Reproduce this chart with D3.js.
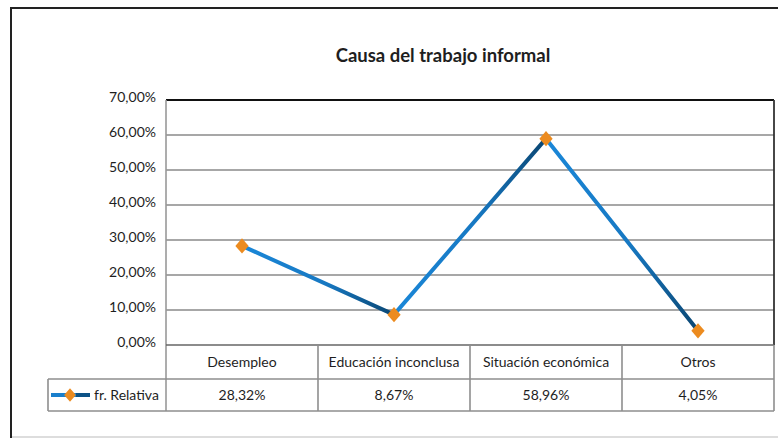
<!DOCTYPE html>
<html>
<head>
<meta charset="utf-8">
<script src="https://cdn.jsdelivr.net/npm/d3@7"></script>
<style>
  body { margin: 0; background: #fff; }
  svg text { font-family: Lato, "Open Sans", sans-serif; fill: #1e1e1e; }
</style>
</head>
<body>
<script>
const categories = ['Desempleo', 'Educación inconclusa', 'Situación económica', 'Otros'];
const values = [0.2832, 0.0867, 0.5896, 0.0405];
const valueLabels = ['28,32%', '8,67%', '58,96%', '4,05%'];
const yTicks = [0, 0.1, 0.2, 0.3, 0.4, 0.5, 0.6, 0.7];
const seriesName = 'fr. Relativa';
const title = 'Causa del trabajo informal';

const fullWidth = 778;
const fullHeight = 439;
const plot = { left: 166, right: 774, top: 100, bottom: 345 };
const rowH = 33;

// Excel-like diamond marker (a bit taller than wide)
const excelDiamond = {
  draw(context, size) {
    const w = Math.sqrt(size) * 0.7;
    const h = Math.sqrt(size) * 0.8;
    context.moveTo(0, -h);
    context.lineTo(w, 0);
    context.lineTo(0, h);
    context.lineTo(-w, 0);
    context.closePath();
  }
};

const svg = d3.select('body')
  .append('svg')
  .attr('width', fullWidth)
  .attr('height', fullHeight);

// Outer frame
svg.append('rect')
  .attr('x', 11).attr('y', 8)
  .attr('width', 790).attr('height', 429)
  .attr('fill', 'none')
  .attr('stroke', '#222')
  .attr('stroke-width', 2);
svg.append('line')
  .attr('x1', 12).attr('x2', 778).attr('y1', 437).attr('y2', 437)
  .attr('stroke', '#ddd').attr('stroke-width', 2);

// Scales
const xScale = d3.scaleBand()
  .domain(categories)
  .range([plot.left, plot.right]);

const yScale = d3.scaleLinear()
  .domain([0, 0.7])
  .range([plot.bottom, plot.top]);

const fmt = d => d3.format('.2f')(d * 100).replace('.', ',') + '%';

// Gridlines
svg.append('g')
  .selectAll('line')
  .data(yTicks.slice(1, -1))
  .enter()
  .append('line')
  .attr('x1', plot.left).attr('x2', plot.right)
  .attr('y1', d => yScale(d)).attr('y2', d => yScale(d))
  .attr('stroke', '#8a8a8a')
  .attr('stroke-width', 1.6);

// Y axis labels
const yAxis = d3.axisLeft(yScale)
  .tickValues(yTicks)
  .tickFormat(fmt)
  .tickSize(0)
  .tickPadding(10);

const yg = svg.append('g')
  .attr('transform', `translate(${plot.left}, 0)`)
  .call(yAxis);
yg.select('.domain').remove();
yg.selectAll('text')
  .style('font-size', '14px')
  .style('font-family', 'Lato, sans-serif')
  .attr('fill', '#1e1e1e')
  .attr('dy', '0.1em');

// Plot borders
svg.append('line')
  .attr('x1', plot.left).attr('x2', plot.right)
  .attr('y1', plot.top).attr('y2', plot.top)
  .attr('stroke', '#111').attr('stroke-width', 1.8);
svg.append('line')
  .attr('x1', plot.right).attr('x2', plot.right)
  .attr('y1', plot.top).attr('y2', plot.bottom)
  .attr('stroke', '#333').attr('stroke-width', 1.8);
svg.append('line')
  .attr('x1', plot.left).attr('x2', plot.left)
  .attr('y1', plot.top).attr('y2', plot.bottom + rowH * 2)
  .attr('stroke', '#999').attr('stroke-width', 1.6);

// Data table
const table = svg.append('g').attr('stroke', '#8e8e8e').attr('stroke-width', 1.6);
table.append('line')
  .attr('x1', plot.left).attr('x2', plot.right)
  .attr('y1', plot.bottom).attr('y2', plot.bottom)
  .attr('stroke', '#666');
table.append('line')
  .attr('x1', 48).attr('x2', plot.right)
  .attr('y1', plot.bottom + rowH + 1).attr('y2', plot.bottom + rowH + 1);
table.append('line')
  .attr('x1', 48).attr('x2', plot.right)
  .attr('y1', plot.bottom + rowH * 2).attr('y2', plot.bottom + rowH * 2);
table.append('line')
  .attr('x1', 48).attr('x2', 48)
  .attr('y1', plot.bottom + rowH + 1).attr('y2', plot.bottom + rowH * 2);
table.selectAll('.col')
  .data(categories)
  .enter()
  .append('line')
  .attr('class', 'col')
  .attr('x1', d => xScale(d) + xScale.bandwidth())
  .attr('x2', d => xScale(d) + xScale.bandwidth())
  .attr('y1', plot.bottom).attr('y2', plot.bottom + rowH * 2);

svg.append('g')
  .selectAll('text')
  .data(categories)
  .enter()
  .append('text')
  .attr('x', d => xScale(d) + xScale.bandwidth() / 2)
  .attr('y', plot.bottom + 22)
  .attr('text-anchor', 'middle')
  .style('font-size', '14px')
  .text(d => d);

svg.append('g')
  .selectAll('text')
  .data(valueLabels)
  .enter()
  .append('text')
  .attr('x', (d, i) => xScale(categories[i]) + xScale.bandwidth() / 2)
  .attr('y', plot.bottom + rowH + 22)
  .attr('text-anchor', 'middle')
  .style('font-size', '14px')
  .text(d => d);

// Legend key in table
const ly = plot.bottom + rowH + 17;
const leg = svg.append('g');
leg.append('line')
  .attr('x1', 51).attr('x2', 90).attr('y1', ly).attr('y2', ly)
  .attr('stroke', '#1a7fcc').attr('stroke-width', 4);
leg.append('line')
  .attr('x1', 76).attr('x2', 90).attr('y1', ly).attr('y2', ly)
  .attr('stroke', '#0d5286').attr('stroke-width', 4);
leg.append('path')
  .attr('d', d3.symbol(excelDiamond, 70)())
  .attr('transform', `translate(70, ${ly})`)
  .attr('fill', '#ec8b1f');
leg.append('text')
  .attr('x', 94).attr('y', ly + 5)
  .style('font-size', '14px')
  .text(seriesName);

// Series line, each segment shaded light to dark
const pts = categories.map((c, i) => [xScale(c) + xScale.bandwidth() / 2, yScale(values[i])]);
const defs = svg.append('defs');
const segs = d3.pairs(pts);
segs.forEach(([a, b], i) => {
  const g = defs.append('linearGradient')
    .attr('id', `seg${i}`)
    .attr('gradientUnits', 'userSpaceOnUse')
    .attr('x1', a[0]).attr('y1', a[1])
    .attr('x2', b[0]).attr('y2', b[1]);
  g.append('stop').attr('offset', '0').attr('stop-color', '#1a87d8');
  g.append('stop').attr('offset', '0.55').attr('stop-color', '#1778c2');
  g.append('stop').attr('offset', '1').attr('stop-color', '#0a4672');
});

svg.append('g')
  .selectAll('line')
  .data(segs)
  .enter()
  .append('line')
  .attr('x1', d => d[0][0]).attr('y1', d => d[0][1])
  .attr('x2', d => d[1][0]).attr('y2', d => d[1][1])
  .attr('stroke', (d, i) => `url(#seg${i})`)
  .attr('stroke-width', 4)
  .attr('stroke-linecap', 'round');

svg.append('g')
  .selectAll('path')
  .data(pts)
  .enter()
  .append('path')
  .attr('d', d3.symbol(excelDiamond, 90)())
  .attr('transform', d => `translate(${d[0]}, ${d[1]})`)
  .attr('fill', '#ec8b1f');

// Title
svg.append('text')
  .attr('x', 443)
  .attr('y', 62)
  .attr('text-anchor', 'middle')
  .style('font-size', '18.5px')
  .style('font-weight', 'bold')
  .text(title);
</script>
</body>
</html>
